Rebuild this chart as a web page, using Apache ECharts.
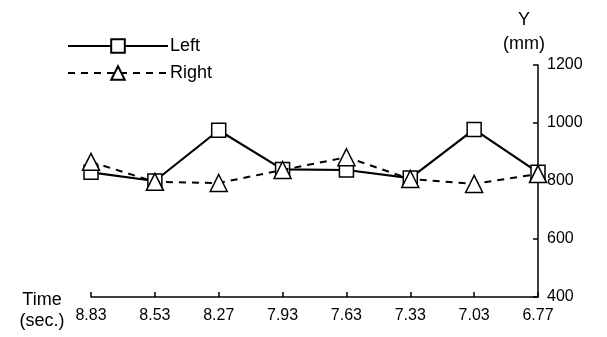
<!DOCTYPE html>
<html>
<head>
<meta charset="utf-8">
<script src="https://cdn.jsdelivr.net/npm/echarts@6/dist/echarts.min.js"></script>
<style>
html,body{margin:0;padding:0;background:#fff;}
#chart{width:607px;height:337px;}
</style>
</head>
<body>
<div id="chart"></div>
<script>
var categories = ['8.83', '8.53', '8.27', '7.93', '7.63', '7.33', '7.03', '6.77'];
var leftValues = [830, 800, 975, 840, 838, 810, 978, 830];
var rightValues = [866, 797, 793, 838, 882, 807, 790, 824];
var yTicks = [400, 600, 800, 1000, 1200];

var FONT = '"Liberation Sans", Arial, sans-serif';
var chart = echarts.init(document.getElementById('chart'), null, {renderer: 'canvas'});
chart.setOption({
  animation: false,
  backgroundColor: '#fff',
  title: [
    {text: 'Y\n(mm)', left: 519, top: 3, textAlign: 'center',
     textStyle: {fontFamily: FONT, fontSize: 18, fontWeight: 'normal', color: '#000', lineHeight: 24, align: 'center'}},
    {text: 'Time\n(sec.)', left: 37, top: 285, textAlign: 'center',
     textStyle: {fontFamily: FONT, fontSize: 18, fontWeight: 'normal', color: '#000', lineHeight: 21, align: 'center'}}
  ],
  legend: {
    orient: 'vertical', left: 62, top: 32, itemWidth: 100, itemHeight: 17, itemGap: 9,
    textStyle: {fontFamily: FONT, fontSize: 18, color: '#000', padding: [0, 0, 0, -3]},
    data: ['Left', 'Right']
  },
  grid: {left: 91, right: 69, top: 65, bottom: 40, containLabel: false},
  xAxis: {
    type: 'category', data: categories, boundaryGap: false,
    axisLine: {lineStyle: {color: '#000', width: 1.5}},
    axisTick: {inside: true, length: 5, alignWithLabel: true, lineStyle: {color: '#000', width: 1.5}},
    axisLabel: {fontFamily: FONT, fontSize: 16, color: '#000', margin: 11},
    splitLine: {show: false}
  },
  yAxis: {
    type: 'value', position: 'right', min: 400, max: 1200, interval: 200,
    axisLine: {show: true, lineStyle: {color: '#000', width: 1.5}},
    axisTick: {show: true, inside: true, length: 5, lineStyle: {color: '#000', width: 1.5}},
    axisLabel: {fontFamily: FONT, fontSize: 16, color: '#000', margin: 9,
      formatter: function (v) { return yTicks.indexOf(v) >= 0 ? String(v) : ''; }},
    splitLine: {show: false}
  },
  series: [
    {name: 'Left', type: 'line', data: leftValues, symbol: 'rect', symbolSize: 14,
     lineStyle: {color: '#000', width: 2.2, type: 'solid'},
     itemStyle: {color: '#fff', borderColor: '#000', borderWidth: 1.5}, z: 2},
    {name: 'Right', type: 'line', data: rightValues, symbol: 'triangle', symbolSize: 17,
     lineStyle: {color: '#000', width: 2, type: [7, 6]},
     itemStyle: {color: '#fff', borderColor: '#000', borderWidth: 1.5}, z: 3}
  ]
});
</script>
</body>
</html>
